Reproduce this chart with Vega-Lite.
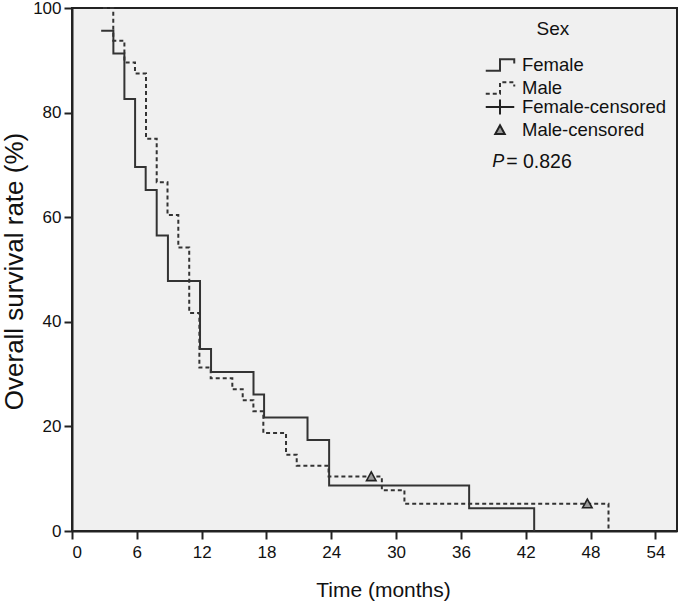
{
  "$schema": "https://vega.github.io/schema/vega-lite/v6.json",
  "width": 605,
  "height": 523,
  "autosize": {"type": "none"},
  "padding": {"left": 72, "top": 8, "right": 12, "bottom": 77},
  "background": "white",
  "config": {
    "view": {"fill": "#f0f0f0", "stroke": "#222222", "strokeWidth": 2},
    "font": "Liberation Sans",
    "axis": {
      "domainColor": "#222222", "domainWidth": 2, "tickColor": "#222222", "tickWidth": 2, "tickSize": 8,
      "labelFont": "Liberation Sans", "labelFontSize": 17, "labelColor": "#111111",
      "titleFont": "Liberation Sans", "titleFontSize": 21, "titleFontWeight": "normal", "titleColor": "#111111",
      "grid": false
    },
    "legend": {
      "labelFont": "Liberation Sans", "labelFontSize": 18.5, "labelColor": "#111111",
      "titleFont": "Liberation Sans", "titleFontSize": 19, "titleFontWeight": "normal", "titleColor": "#111111",
      "symbolSize": 361, "symbolStrokeWidth": 2, "labelOffset": 11.5, "padding": 0
    }
  },
  "datasets": {
    "curves": [
      {"sex": "Female", "time": 2.7, "survival": 95.65},
      {"sex": "Female", "time": 3.83, "survival": 91.3},
      {"sex": "Female", "time": 4.85, "survival": 82.6},
      {"sex": "Female", "time": 5.84, "survival": 69.6},
      {"sex": "Female", "time": 6.82, "survival": 65.2},
      {"sex": "Female", "time": 7.84, "survival": 56.5},
      {"sex": "Female", "time": 8.88, "survival": 47.8},
      {"sex": "Female", "time": 11.85, "survival": 34.8},
      {"sex": "Female", "time": 12.87, "survival": 30.4},
      {"sex": "Female", "time": 16.8, "survival": 26.1},
      {"sex": "Female", "time": 17.78, "survival": 21.7},
      {"sex": "Female", "time": 21.8, "survival": 17.4},
      {"sex": "Female", "time": 23.8, "survival": 8.7},
      {"sex": "Female", "time": 36.76, "survival": 4.35},
      {"sex": "Female", "time": 42.78, "survival": 0},
      {"sex": "Male", "time": 2.87, "survival": 100},
      {"sex": "Male", "time": 3.82, "survival": 93.75},
      {"sex": "Male", "time": 4.85, "survival": 89.6},
      {"sex": "Male", "time": 5.83, "survival": 87.5},
      {"sex": "Male", "time": 6.85, "survival": 75.0},
      {"sex": "Male", "time": 7.84, "survival": 66.7},
      {"sex": "Male", "time": 8.84, "survival": 60.4},
      {"sex": "Male", "time": 9.84, "survival": 54.2},
      {"sex": "Male", "time": 10.85, "survival": 41.7},
      {"sex": "Male", "time": 11.79, "survival": 31.25},
      {"sex": "Male", "time": 12.84, "survival": 29.2},
      {"sex": "Male", "time": 14.84, "survival": 27.1},
      {"sex": "Male", "time": 15.8, "survival": 25.0},
      {"sex": "Male", "time": 16.79, "survival": 22.9},
      {"sex": "Male", "time": 17.71, "survival": 18.75},
      {"sex": "Male", "time": 19.81, "survival": 14.6},
      {"sex": "Male", "time": 20.8, "survival": 12.5},
      {"sex": "Male", "time": 23.75, "survival": 10.4},
      {"sex": "Male", "time": 28.68, "survival": 7.8},
      {"sex": "Male", "time": 30.77, "survival": 5.2},
      {"sex": "Male", "time": 49.66, "survival": 0}
    ],
    "censored": [
      {"status": "Male-censored", "time": 27.7, "survival": 10.4},
      {"status": "Male-censored", "time": 47.7, "survival": 5.2}
    ],
    "ptext": [
      {"part": "P"}
    ],
    "pvalue": [
      {"part": "= 0.826"}
    ]
  },
  "layer": [
    {
      "data": {"name": "curves"},
      "mark": {"type": "line", "interpolate": "step-after", "color": "#333333", "strokeWidth": 2},
      "encoding": {
        "x": {
          "field": "time", "type": "quantitative",
          "scale": {"domain": [0, 56], "nice": false, "zero": false},
          "axis": {"values": [0, 6, 12, 18, 24, 30, 36, 42, 48, 54], "title": "Time (months)", "labelPadding": 5,
                   "titleX": 311, "titleY": 59, "titleBaseline": "middle"}
        },
        "y": {
          "field": "survival", "type": "quantitative",
          "scale": {"domain": [0, 100], "nice": false},
          "axis": {"values": [0, 20, 40, 60, 80, 100], "title": "Overall survival rate (%)", "labelPadding": 3,
                   "titleFontSize": 26,
                   "titleX": -58, "titleY": 263, "titleBaseline": "middle", "titleAlign": "center", "titleAngle": -90}
        },
        "strokeDash": {
          "field": "sex", "type": "nominal",
          "scale": {"domain": ["Female", "Male"], "range": [[1, 0], [4, 3]]},
          "legend": {
            "title": "\u00a0\u00a0\u00a0Sex", "orient": "none", "legendX": 417.5, "legendY": 12,
            "titleAnchor": "middle", "titleAlign": "left", "titlePadding": 15.5, "rowPadding": 2,
            "symbolType": "M-1.5,0.6H0V-0.6H1.5V-0.15",
            "symbolStrokeColor": "#333333", "symbolFillColor": "transparent"
          }
        }
      }
    },
    {
      "data": {"name": "censored"},
      "mark": {"type": "point", "filled": false, "color": "#222222", "stroke": "#222222", "fill": "#9a9a9a", "fillOpacity": 1, "strokeWidth": 1.6, "opacity": 1, "size": 361},
      "encoding": {
        "x": {"field": "time", "type": "quantitative"},
        "y": {"field": "survival", "type": "quantitative"},
        "shape": {
          "field": "status", "type": "nominal",
          "scale": {"domain": ["Female-censored", "Male-censored"],
                    "range": ["M-1.5,0H1.5M0,-0.8V0.8", "M0,-0.5L0.5,0.42L-0.5,0.42Z"]},
          "legend": {"title": null, "orient": "none", "legendX": 417.5, "legendY": 88.5, "rowPadding": 0,
                     "encode": {"symbols": {"update": {
                       "stroke": {"value": "#333333"},
                       "strokeWidth": {"value": 2},
                       "fill": {"value": "#f0f0f0"},
                       "opacity": {"value": 1}
                     }}}}
        }
      }
    },
    {
      "data": {"name": "ptext"},
      "mark": {"type": "text", "fontStyle": "italic", "fontSize": 18, "align": "left", "baseline": "middle", "font": "Liberation Sans", "color": "#111111"},
      "encoding": {
        "text": {"field": "part", "type": "nominal"},
        "x": {"datum": 38.9, "type": "quantitative"},
        "y": {"datum": 70.6, "type": "quantitative"}
      }
    },
    {
      "data": {"name": "pvalue"},
      "mark": {"type": "text", "fontSize": 19.5, "align": "left", "baseline": "middle", "font": "Liberation Sans", "color": "#111111"},
      "encoding": {
        "text": {"field": "part", "type": "nominal"},
        "x": {"datum": 40.19, "type": "quantitative"},
        "y": {"datum": 70.6, "type": "quantitative"}
      }
    }
  ]
}
